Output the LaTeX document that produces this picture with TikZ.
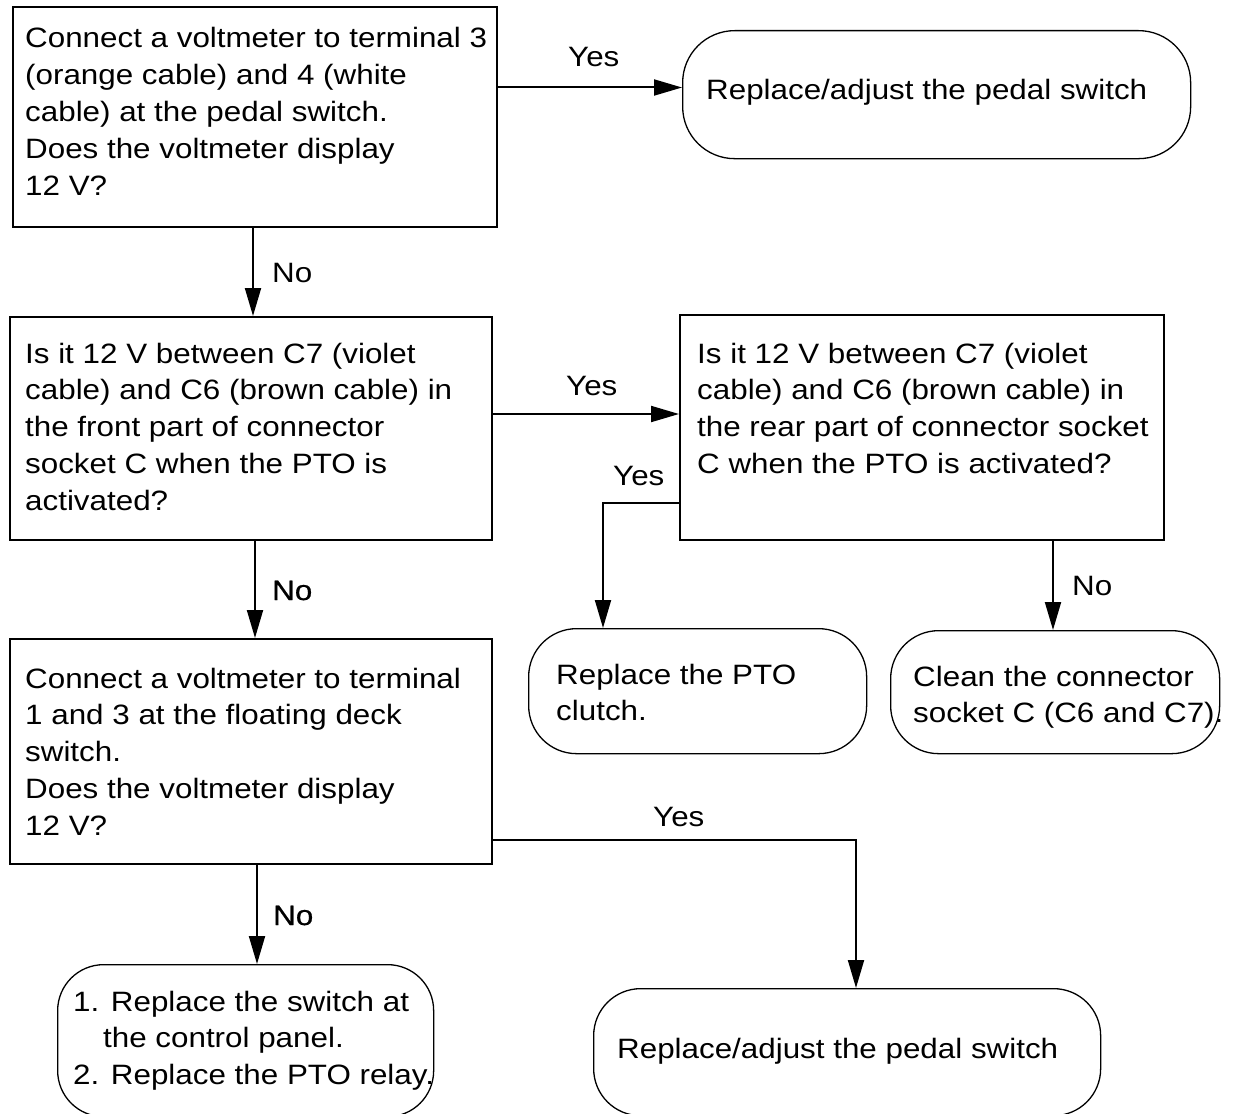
\documentclass[tikz,border=0pt]{standalone}
\usepackage{fontspec}
\setmainfont{Liberation Sans}[FakeStretch=1.12]
\newfontfamily\semibfont{Liberation Sans}[FakeStretch=1.12, FakeBold=0.6]
\usetikzlibrary{arrows.meta}
\newcommand{\ml}[1]{\begin{tabular}[t]{@{}l@{}}#1\end{tabular}}
\tikzset{
  qbox/.style={draw, line width=2.2pt, rectangle, inner sep=0pt, anchor=north west},
  rbox/.style={draw, line width=1.3pt, rectangle, rounded corners=48pt, inner sep=0pt, anchor=north west},
  txt/.style={inner sep=0pt, anchor=base west, font=\fontsize{28}{36.8}\selectfont},
  btxt/.style={inner sep=0pt, anchor=base west, font=\semibfont\fontsize{28}{36.8}\selectfont},
  arr/.style={line width=2pt, -{Triangle[length=28pt,width=16pt]}}
}
\begin{document}
\begin{tikzpicture}[x=1pt,y=-1pt]
\useasboundingbox (0,0) rectangle (1236,1113);
\clip (0,0) rectangle (1236,1113);
\fill[white] (0,0) rectangle (1236,1113);

% boxes
\node[qbox, minimum width=484pt, minimum height=220pt] (b1) at (12,6) {};
\node[rbox, rounded corners=52pt, minimum width=508pt, minimum height=128pt] (r1) at (682,30) {};
\node[qbox, minimum width=482pt, minimum height=223pt] (b2) at (9,316) {};
\node[qbox, minimum width=484pt, minimum height=225pt] (b3) at (679,314) {};
\node[rbox, minimum width=338pt, minimum height=125pt] (r2) at (528,628) {};
\node[rbox, minimum width=329pt, minimum height=123pt] (r3) at (890,630) {};
\node[qbox, minimum width=482pt, minimum height=225pt] (b4) at (9,638) {};
\node[rbox, rounded corners=46pt, minimum width=376pt, minimum height=152pt] (r4) at (57,964) {};
\node[rbox, rounded corners=47pt, minimum width=507pt, minimum height=127pt] (r5) at (593,988) {};

% texts
\node[txt] (t1) at (25,48) {\ml{Connect a voltmeter to terminal 3\\(orange cable) and 4 (white\\cable) at the pedal switch.\\Does the voltmeter display\\12 V?}};
\node[txt] (tr1) at (706,100) {Replace/adjust the pedal switch};
\node[txt] (t2) at (25,363) {\ml{Is it 12 V between C7 (violet\\cable) and C6 (brown cable) in\\the front part of connector\\socket C when the PTO is\\activated?}};
\node[txt] (t3) at (697,363) {\ml{Is it 12 V between C7 (violet\\cable) and C6 (brown cable) in\\the rear part of connector socket\\C when the PTO is activated?}};
\node[txt] (tr2) at (556,684) {\ml{Replace the PTO\\clutch.}};
\node[txt] (tr3) at (913,686) {\ml{Clean the connector\\socket C (C6 and C7).}};
\node[txt] (t4) at (25,688) {\ml{Connect a voltmeter to terminal\\1 and 3 at the floating deck\\switch.\\Does the voltmeter display\\12 V?}};
\node[txt] (tr4) at (73,1011) {\ml{1. Replace the switch at\\\hspace{30pt}the control panel.\\2. Replace the PTO relay.}};
\node[txt] (tr5) at (617,1058) {Replace/adjust the pedal switch};

% connectors
\draw[arr] (b1.east |- 0,87.5) -- (r1.west |- 0,87.5);
\draw[arr] (b1.south -| 253,0) -- (b2.north -| 253,0);
\draw[arr] (b2.east |- 0,414) -- (b3.west |- 0,414);
\draw[arr] (b3.west |- 0,503) -| (r2.north -| 603,0);
\draw[arr] (b2.south -| 255,0) -- (b4.north -| 255,0);
\draw[arr] (b3.south -| 1053,0) -- (r3.north -| 1053,0);
\draw[arr] (b4.south -| 257,0) -- (r4.north -| 257,0);
\draw[arr] (b4.east |- 0,840) -| (r5.north -| 856,0);

% labels
\node[txt] (y1) at (568,67) {Yes};
\node[txt] (n1) at (272,282) {No};
\node[txt] (y2) at (566,395) {Yes};
\node[txt] (y3) at (613,485) {Yes};
\node[btxt] (n2) at (272,600) {No};
\node[txt] (n3) at (1072,595) {No};
\node[txt] (y4) at (653,826) {Yes};
\node[btxt] (n4) at (273,925) {No};
\end{tikzpicture}
\end{document}
